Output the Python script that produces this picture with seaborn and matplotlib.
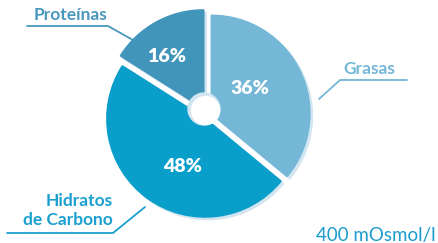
import matplotlib
matplotlib.use("Agg")
import matplotlib.pyplot as plt
import seaborn as sns
from matplotlib.patches import Circle

# ---- data ----
categories = ["Grasas", "Hidratos\nde Carbono", "Proteínas"]
values = [36, 48, 16]
pct_labels = ["36%", "48%", "16%"]
colors = ["#74b7d7", "#0a9ecb", "#4194ba"]
label_colors = ["#74b7d7", "#1aa0d0", "#4a97bd"]
note = "400 mOsmol/l"

sns.set_theme(style="white")
plt.rcParams["font.family"] = ["Lato", "DejaVu Sans"]

W, H = 438, 243
fig = plt.figure(figsize=(W / 100, H / 100), dpi=100)
ax = fig.add_axes([0, 0, 1, 1])

cx, cy, R = 207.5, H - 115.5, 98.0
explode = [4.5, 4.0, 8.3]   # offsets in data units (pixels)

def py(y):
    return H - y

shadow = "#d2e5f1"
# shadow pie
ax.pie(values, colors=[shadow] * 3, startangle=90, counterclock=False,
       center=(cx + 2.5, cy - 2.5), radius=R, explode=explode,
       wedgeprops=dict(linewidth=1.5, edgecolor=shadow, joinstyle="round"),
       frame=True)
# main pie
wedges, _ = ax.pie(values, colors=colors, startangle=90, counterclock=False,
                   center=(cx, cy), radius=R, explode=explode,
                   wedgeprops=dict(linewidth=1.5, joinstyle="round"),
                   frame=True)
for w, c in zip(wedges, colors):
    w.set_edgecolor(c)
ax.set_xlim(0, W)
ax.set_ylim(0, H)
ax.set_aspect("equal")
ax.axis("off")

# hole
ax.add_patch(Circle((204, py(109)), 16, color=shadow, zorder=5))
ax.add_patch(Circle((205.5, py(110.5)), 14, color="white", zorder=6))

# percent labels
pct_pos = [(250, 88), (183, 167), (167, 56)]
for (x, y), t in zip(pct_pos, pct_labels):
    ax.text(x, py(y), t, color="white", fontsize=14, fontweight="heavy",
            ha="center", va="center", zorder=7)

lw = 1.3
# Grasas
ax.text(369, py(69), categories[0], color=label_colors[0], fontsize=12.5,
        fontweight="bold", ha="center", va="center")
ax.plot([407, 340, 319], [py(80), py(80), py(99)], color=label_colors[0], lw=lw)
# Hidratos
ax.text(113, py(210.5), categories[1], color=label_colors[1], fontsize=12.5,
        fontweight="bold", ha="right", va="center", linespacing=1.3,
        multialignment="right")
ax.plot([7, 113, 145], [py(233), py(233), py(207)], color=label_colors[1], lw=lw)
# Proteínas
ax.text(70.5, py(14.5), categories[2], color=label_colors[2], fontsize=12.5,
        fontweight="bold", ha="center", va="center")
ax.plot([27, 108, 133], [py(26), py(26), py(40)], color=label_colors[2], lw=lw)

# note
ax.text(436, py(235.5), note, color="#1b9ccc", fontsize=13.5, ha="right",
        va="center")

fig.savefig("out.png", dpi=100)
